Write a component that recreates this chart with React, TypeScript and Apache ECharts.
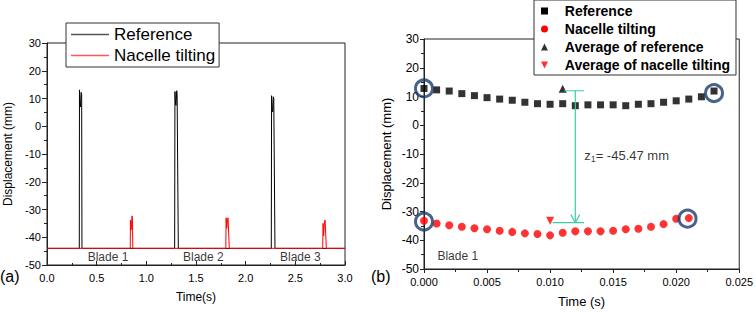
import React, { useEffect, useRef } from "react";
import * as echarts from "echarts";

const FONT = "Arial, Liberation Sans, sans-serif";

// ---- Panel (a) data: time (s), displacement (mm) ----
const refTrace: number[][] = [
  [0, -44], [0.325, -44], [0.327, 13.1], [0.333, 8.5], [0.338, 7], [0.344, 12.2], [0.349, 11.5], [0.352, -44],
  [1.285, -44], [1.288, 12.5], [1.294, 8], [1.299, 7.5], [1.306, 12.8], [1.31, 11], [1.322, -44],
  [2.258, -44], [2.261, 11], [2.268, 6], [2.273, 5.2], [2.279, 10.6], [2.283, 10], [2.295, -44], [3, -44],
];
const nacTrace: number[][] = [
  [0, -44], [0.838, -44], [0.84, -33.8], [0.846, -37.4], [0.851, -35.5], [0.856, -32.3], [0.86, -33], [0.864, -44],
  [1.8, -44], [1.803, -33], [1.81, -36.8], [1.818, -33.5], [1.823, -33], [1.835, -44],
  [2.776, -44], [2.779, -35], [2.785, -39.5], [2.793, -34.5], [2.8, -33.8], [2.812, -44], [3, -44],
];
const bladeNamesA = ["Blade 1", "Blade 2", "Blade 3"];
const bladeTimesA = [0.614, 1.574, 2.55];
const bladeLabelY_A = -47.1;

// ---- Panel (b) data ----
const refT = [0, 0.001, 0.002, 0.003, 0.004, 0.005, 0.006, 0.007, 0.008, 0.009, 0.01, 0.011,
  0.012, 0.013, 0.014, 0.015, 0.016, 0.017, 0.018, 0.019, 0.02, 0.021, 0.022, 0.023];
const refD = [12.8, 12.3, 11.9, 11.0, 10.3, 9.6, 9.1, 8.7, 8.0, 7.5, 7.3, 7.5,
  6.8, 7.1, 7.1, 7.1, 6.8, 7.3, 7.5, 8.0, 8.5, 9.1, 9.9, 11.9];
const nacT = [0, 0.001, 0.002, 0.003, 0.004, 0.005, 0.006, 0.007, 0.008, 0.009, 0.01, 0.011,
  0.012, 0.013, 0.014, 0.015, 0.016, 0.017, 0.018, 0.019, 0.02, 0.021];
const nacD = [-33.2, -34.2, -34.8, -35.3, -35.8, -36.2, -36.7, -37.1, -37.6, -37.8, -38.3, -37.4,
  -36.9, -36.9, -36.9, -36.7, -36.2, -36.0, -35.3, -34.4, -32.5, -32.3];
const avgRef = [0.011, 12.7];
const avgNac = [0.01, -33.2];
const circled = [[0, 12.8], [0.023, 11.2], [0, -33.5], [0.0209, -32.5]];
const annotSegments: number[][][] = [
  [[0.0111, 12], [0.0127, 12]],
  [[0.012, 12], [0.012, -33.9]],
  [[0.01165, -31.1], [0.012, -33.9]],
  [[0.01235, -31.1], [0.012, -33.9]],
  [[0.0102, -33.9], [0.0127, -33.9]],
];
const annotLabelPos = [0.0127, -10.4];
const bladeLabelB = [0.00268, -45.5];

const GREEN = "#3ccfa5";
const NAVY = "#1a3c6a";
const AXIS = "#222";

const sq = "path://M0,0H10V10H0Z";
const circ = "path://M5,0A5,5,0,1,1,5,10A5,5,0,1,1,5,0Z";
const triUp = "path://M5,0L10,10H0Z";
const triDown = "path://M0,0H10L5,10Z";

function axisCommon(extra: any) {
  return {
    type: "value",
    axisLine: { show: true, onZero: false, lineStyle: { color: AXIS, width: 1 } },
    splitLine: { show: false },
    minorSplitLine: { show: false },
    ...extra,
  };
}

export default function App() {
  const ref = useRef<HTMLDivElement>(null);
  useEffect(() => {
    if (!ref.current) return;
    const chart = echarts.init(ref.current, undefined, { renderer: "svg" });
    const option: any = {
      animation: false,
      textStyle: { fontFamily: FONT },
      grid: [
        { left: 47, top: 43, width: 298, height: 222, show: true, borderColor: AXIS, borderWidth: 1 },
        { left: 424, top: 39, width: 318, height: 233, show: true, borderColor: AXIS, borderWidth: 1 },
      ],
      xAxis: [
        axisCommon({
          gridIndex: 0, min: 0, max: 3, interval: 0.5,
          axisTick: { show: true, inside: true, length: 4, lineStyle: { color: AXIS } },
          minorTick: { show: true, splitNumber: 2, length: 2, lineStyle: { color: AXIS } },
          axisLabel: { color: "#000", fontSize: 11, fontFamily: FONT, margin: 7, formatter: (v: number) => v.toFixed(1) },
          name: "Time(s)", nameLocation: "middle", nameGap: 26,
          nameTextStyle: { color: "#000", fontSize: 12, fontFamily: FONT },
        }),
        axisCommon({
          gridIndex: 1, min: 0, max: 0.025, interval: 0.005,
          axisTick: { show: true, length: 4, lineStyle: { color: AXIS } },
          minorTick: { show: true, splitNumber: 2, length: 3, lineStyle: { color: AXIS } },
          axisLabel: { color: "#000", fontSize: 11, fontFamily: FONT, margin: 7, formatter: (v: number) => v.toFixed(3) },
          name: "Time (s)", nameLocation: "middle", nameGap: 26,
          nameTextStyle: { color: "#000", fontSize: 13, fontFamily: FONT },
        }),
      ],
      yAxis: [
        axisCommon({
          gridIndex: 0, min: -50, max: 30, interval: 10,
          axisTick: { show: true, length: 5, lineStyle: { color: AXIS } },
          minorTick: { show: true, splitNumber: 2, length: 3, lineStyle: { color: AXIS } },
          axisLabel: { color: "#000", fontSize: 11, fontFamily: FONT, margin: 6 },
          name: "Displacement (mm)", nameLocation: "middle", nameGap: 33, nameRotate: 90,
          nameTextStyle: { color: "#000", fontSize: 12, fontFamily: FONT },
        }),
        axisCommon({
          gridIndex: 1, min: -50, max: 30, interval: 10,
          axisTick: { show: true, length: 4, lineStyle: { color: AXIS } },
          minorTick: { show: true, splitNumber: 2, length: 3, lineStyle: { color: AXIS } },
          axisLabel: { color: "#000", fontSize: 12, fontFamily: FONT, margin: 5 },
          name: "Displacement (mm)", nameLocation: "middle", nameGap: 31, nameRotate: 90,
          nameTextStyle: { color: "#000", fontSize: 13, fontFamily: FONT },
        }),
      ],
      legend: [
        {
          left: 66, top: 23, orient: "vertical", selectedMode: false,
          padding: [3, 4, 3, 5], itemGap: 4, itemWidth: 38, itemHeight: 1.5,
          borderColor: "#333", borderWidth: 1, backgroundColor: "#fff",
          textStyle: { fontSize: 17, color: "#000", fontFamily: FONT },
          data: [
            { name: "Reference", icon: "rect", itemStyle: { color: "#555" } },
            { name: "Nacelle tilting", icon: "rect", itemStyle: { color: "#ff5555" } },
          ],
        },
        {
          left: 534, top: 0, orient: "vertical", selectedMode: false,
          padding: [4, 6, 3, 7], itemGap: 4, itemWidth: 30.6, itemHeight: 7, symbolKeepAspect: true,
          borderColor: "#333", borderWidth: 1, backgroundColor: "#fff",
          textStyle: { fontSize: 14, fontWeight: "bold", color: "#000", fontFamily: FONT },
          data: [
            { name: "Reference", icon: sq, itemStyle: { color: "#000" } },
            { name: "Nacelle tilting", icon: circ, itemStyle: { color: "#ff0000" } },
            { name: "Average of reference", icon: triUp, itemStyle: { color: "#000" } },
            { name: "Average of nacelle tilting", icon: triDown, itemStyle: { color: "#ff0000" } },
          ],
        },
      ],
      graphic: [
        { type: "text", left: 0, top: 268, style: { text: "(a)", fontSize: 16, fill: "#000", fontFamily: FONT } },
        { type: "text", left: 371, top: 268, style: { text: "(b)", fontSize: 16, fill: "#000", fontFamily: FONT } },
      ],
      series: [
        {
          type: "line", name: "Reference", xAxisIndex: 0, yAxisIndex: 0, data: refTrace,
          symbol: "none", lineStyle: { color: "#000", width: 1 }, itemStyle: { color: "#000" }, z: 2,
        },
        {
          type: "line", name: "Nacelle tilting", xAxisIndex: 0, yAxisIndex: 0, data: nacTrace,
          symbol: "none", lineStyle: { color: "#ff0000", width: 1 }, itemStyle: { color: "#ff0000" }, z: 3,
        },
        {
          type: "scatter", name: "bladesA", xAxisIndex: 0, yAxisIndex: 0, symbolSize: 0,
          data: bladeNamesA.map((n, i) => ({ name: n, value: [bladeTimesA[i], bladeLabelY_A] })),
          label: { show: true, position: "inside", formatter: "{b}", color: "#000", fontSize: 12, fontFamily: FONT },
          z: 4,
        },
        {
          type: "scatter", name: "Reference", xAxisIndex: 1, yAxisIndex: 1, symbol: "rect", symbolSize: 7,
          itemStyle: { color: "#000" }, data: refT.map((t, i) => [t, refD[i]]), z: 3,
        },
        {
          type: "scatter", name: "Nacelle tilting", xAxisIndex: 1, yAxisIndex: 1, symbol: "circle", symbolSize: 8,
          itemStyle: { color: "#ff0000" }, data: nacT.map((t, i) => [t, nacD[i]]), z: 3,
        },
        {
          type: "scatter", name: "Average of reference", xAxisIndex: 1, yAxisIndex: 1, symbol: "triangle", symbolSize: 8,
          itemStyle: { color: "#000" }, data: [avgRef], z: 3,
        },
        {
          type: "scatter", name: "Average of nacelle tilting", xAxisIndex: 1, yAxisIndex: 1, symbol: "triangle",
          symbolRotate: 180, symbolSize: 8, itemStyle: { color: "#ff0000" }, data: [avgNac], z: 3,
        },
        {
          type: "scatter", name: "circled", xAxisIndex: 1, yAxisIndex: 1, symbol: "circle", symbolSize: 17,
          itemStyle: { color: "rgba(0,0,0,0)", borderColor: NAVY, borderWidth: 3 }, data: circled, z: 5,
        },
        ...annotSegments.map((seg, i) => ({
          type: "line", name: "annot" + i, xAxisIndex: 1, yAxisIndex: 1, data: seg, symbol: "none",
          lineStyle: { color: GREEN, width: 1.2 }, z: 4,
        })),
        {
          type: "scatter", name: "annotLabel", xAxisIndex: 1, yAxisIndex: 1, symbolSize: 0, data: [annotLabelPos],
          label: {
            show: true, position: "right", distance: 0,
            formatter: "{a|z}{s|1}{a|= -45.47 mm}",
            rich: {
              a: { fontSize: 13, color: "#000", fontFamily: FONT },
              s: { fontSize: 9, color: "#000", fontFamily: FONT, padding: [8, 0, 0, 0] },
            },
          },
          z: 4,
        },
        {
          type: "scatter", name: "bladeB", xAxisIndex: 1, yAxisIndex: 1, symbolSize: 0,
          data: [{ name: "Blade 1", value: bladeLabelB }],
          label: { show: true, position: "inside", formatter: "{b}", color: "#000", fontSize: 12, fontFamily: FONT },
          z: 4,
        },
      ],
    };
    chart.setOption(option);
    return () => chart.dispose();
  }, []);
  return <div ref={ref} style={{ position: "fixed", left: 0, top: 0, width: 756, height: 313, background: "#fff" }} />;
}
